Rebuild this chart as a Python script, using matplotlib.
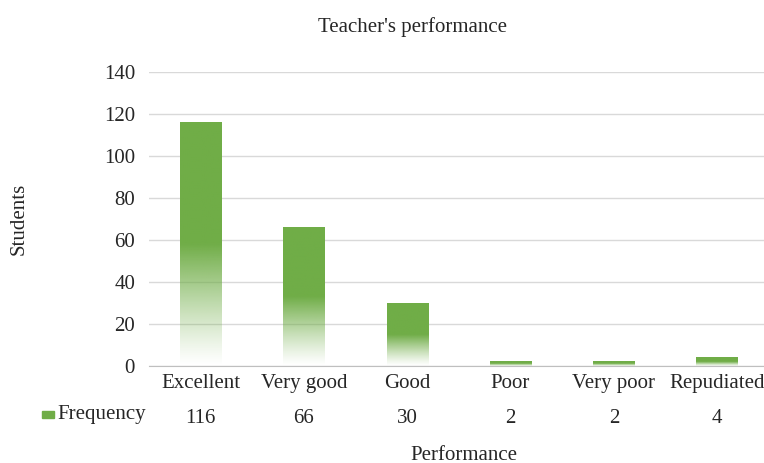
import numpy as np
import matplotlib
matplotlib.use("Agg")
import matplotlib.pyplot as plt
from matplotlib.patches import Rectangle

categories = ["Excellent", "Very good", "Good", "Poor", "Very poor", "Repudiated"]
frequency = [116, 66, 30, 2, 2, 4]
series_name = "Frequency"

green = np.array([0x70, 0xAD, 0x47]) / 255.0
text_col = "#262626"

plt.rcParams["font.family"] = ["Liberation Serif", "DejaVu Serif"]

W, H = 764, 463
fig = plt.figure(figsize=(W / 100, H / 100), dpi=100)
# plot area in pixels: left 149, right 769 (clipped at 764), top 72, bottom 366
left_px, right_px, top_px, bot_px = 149, 764, 72, 366
ax = fig.add_axes([left_px / W, 1 - bot_px / H, (right_px - left_px) / W, (bot_px - top_px) / H])

step_px = 103.3
x = np.arange(len(categories))
ax.set_xlim(-0.5, -0.5 + (right_px - left_px) / step_px)
ax.set_ylim(0, 140)

# gradient bars: solid on top half, fading to white towards the bottom
bar_w = 0.4
n = 200
t = np.linspace(0, 1, n)  # 0 bottom -> 1 top
alpha = np.clip(t / 0.5, 0, 1) ** 1.2
for xi, v in zip(x, frequency):
    img = np.zeros((n, 1, 4))
    img[:, 0, :3] = green
    img[:, 0, 3] = alpha[::-1]
    ax.imshow(img, extent=[xi - bar_w / 2, xi + bar_w / 2, 0, v],
              aspect="auto", interpolation="bilinear", zorder=3)

ax.set_yticks(np.arange(0, 141, 20))
ax.grid(axis="y", color="#D9D9D9", linewidth=1)
ax.set_axisbelow(True)
for s in ["top", "right", "left"]:
    ax.spines[s].set_visible(False)
ax.spines["bottom"].set_color("#BFBFBF")
ax.tick_params(axis="y", length=0, labelsize=15, colors=text_col, pad=10)
ax.set_xticks(x)
ax.set_xticklabels(categories)
ax.tick_params(axis="x", length=0, labelsize=15, colors=text_col, pad=6)

# data table row under the axis
trans = ax.get_xaxis_transform()
row_y = -0.18
for xi, v in zip(x, frequency):
    ax.text(xi, row_y, str(v), transform=trans, ha="center", va="center",
            fontsize=15, color=text_col, clip_on=False)
fig.text(57 / W, 1 - 414 / H, series_name, ha="left", va="center", fontsize=15, color=text_col)
fig.patches.append(Rectangle((42 / W, 1 - 418 / H), 12 / W, 7 / H,
                             transform=fig.transFigure, color=green, figure=fig))

fig.text(413 / W, 1 - 27 / H, "Teacher's performance", ha="center", va="center",
         fontsize=15, color=text_col)
fig.text(464 / W, 1 - 455 / H, "Performance", ha="center", va="center",
         fontsize=15, color=text_col)
fig.text(19 / W, 1 - 219 / H, "Students", ha="center", va="center",
         rotation=90, fontsize=15, color=text_col)

fig.savefig("out.png", dpi=100)
